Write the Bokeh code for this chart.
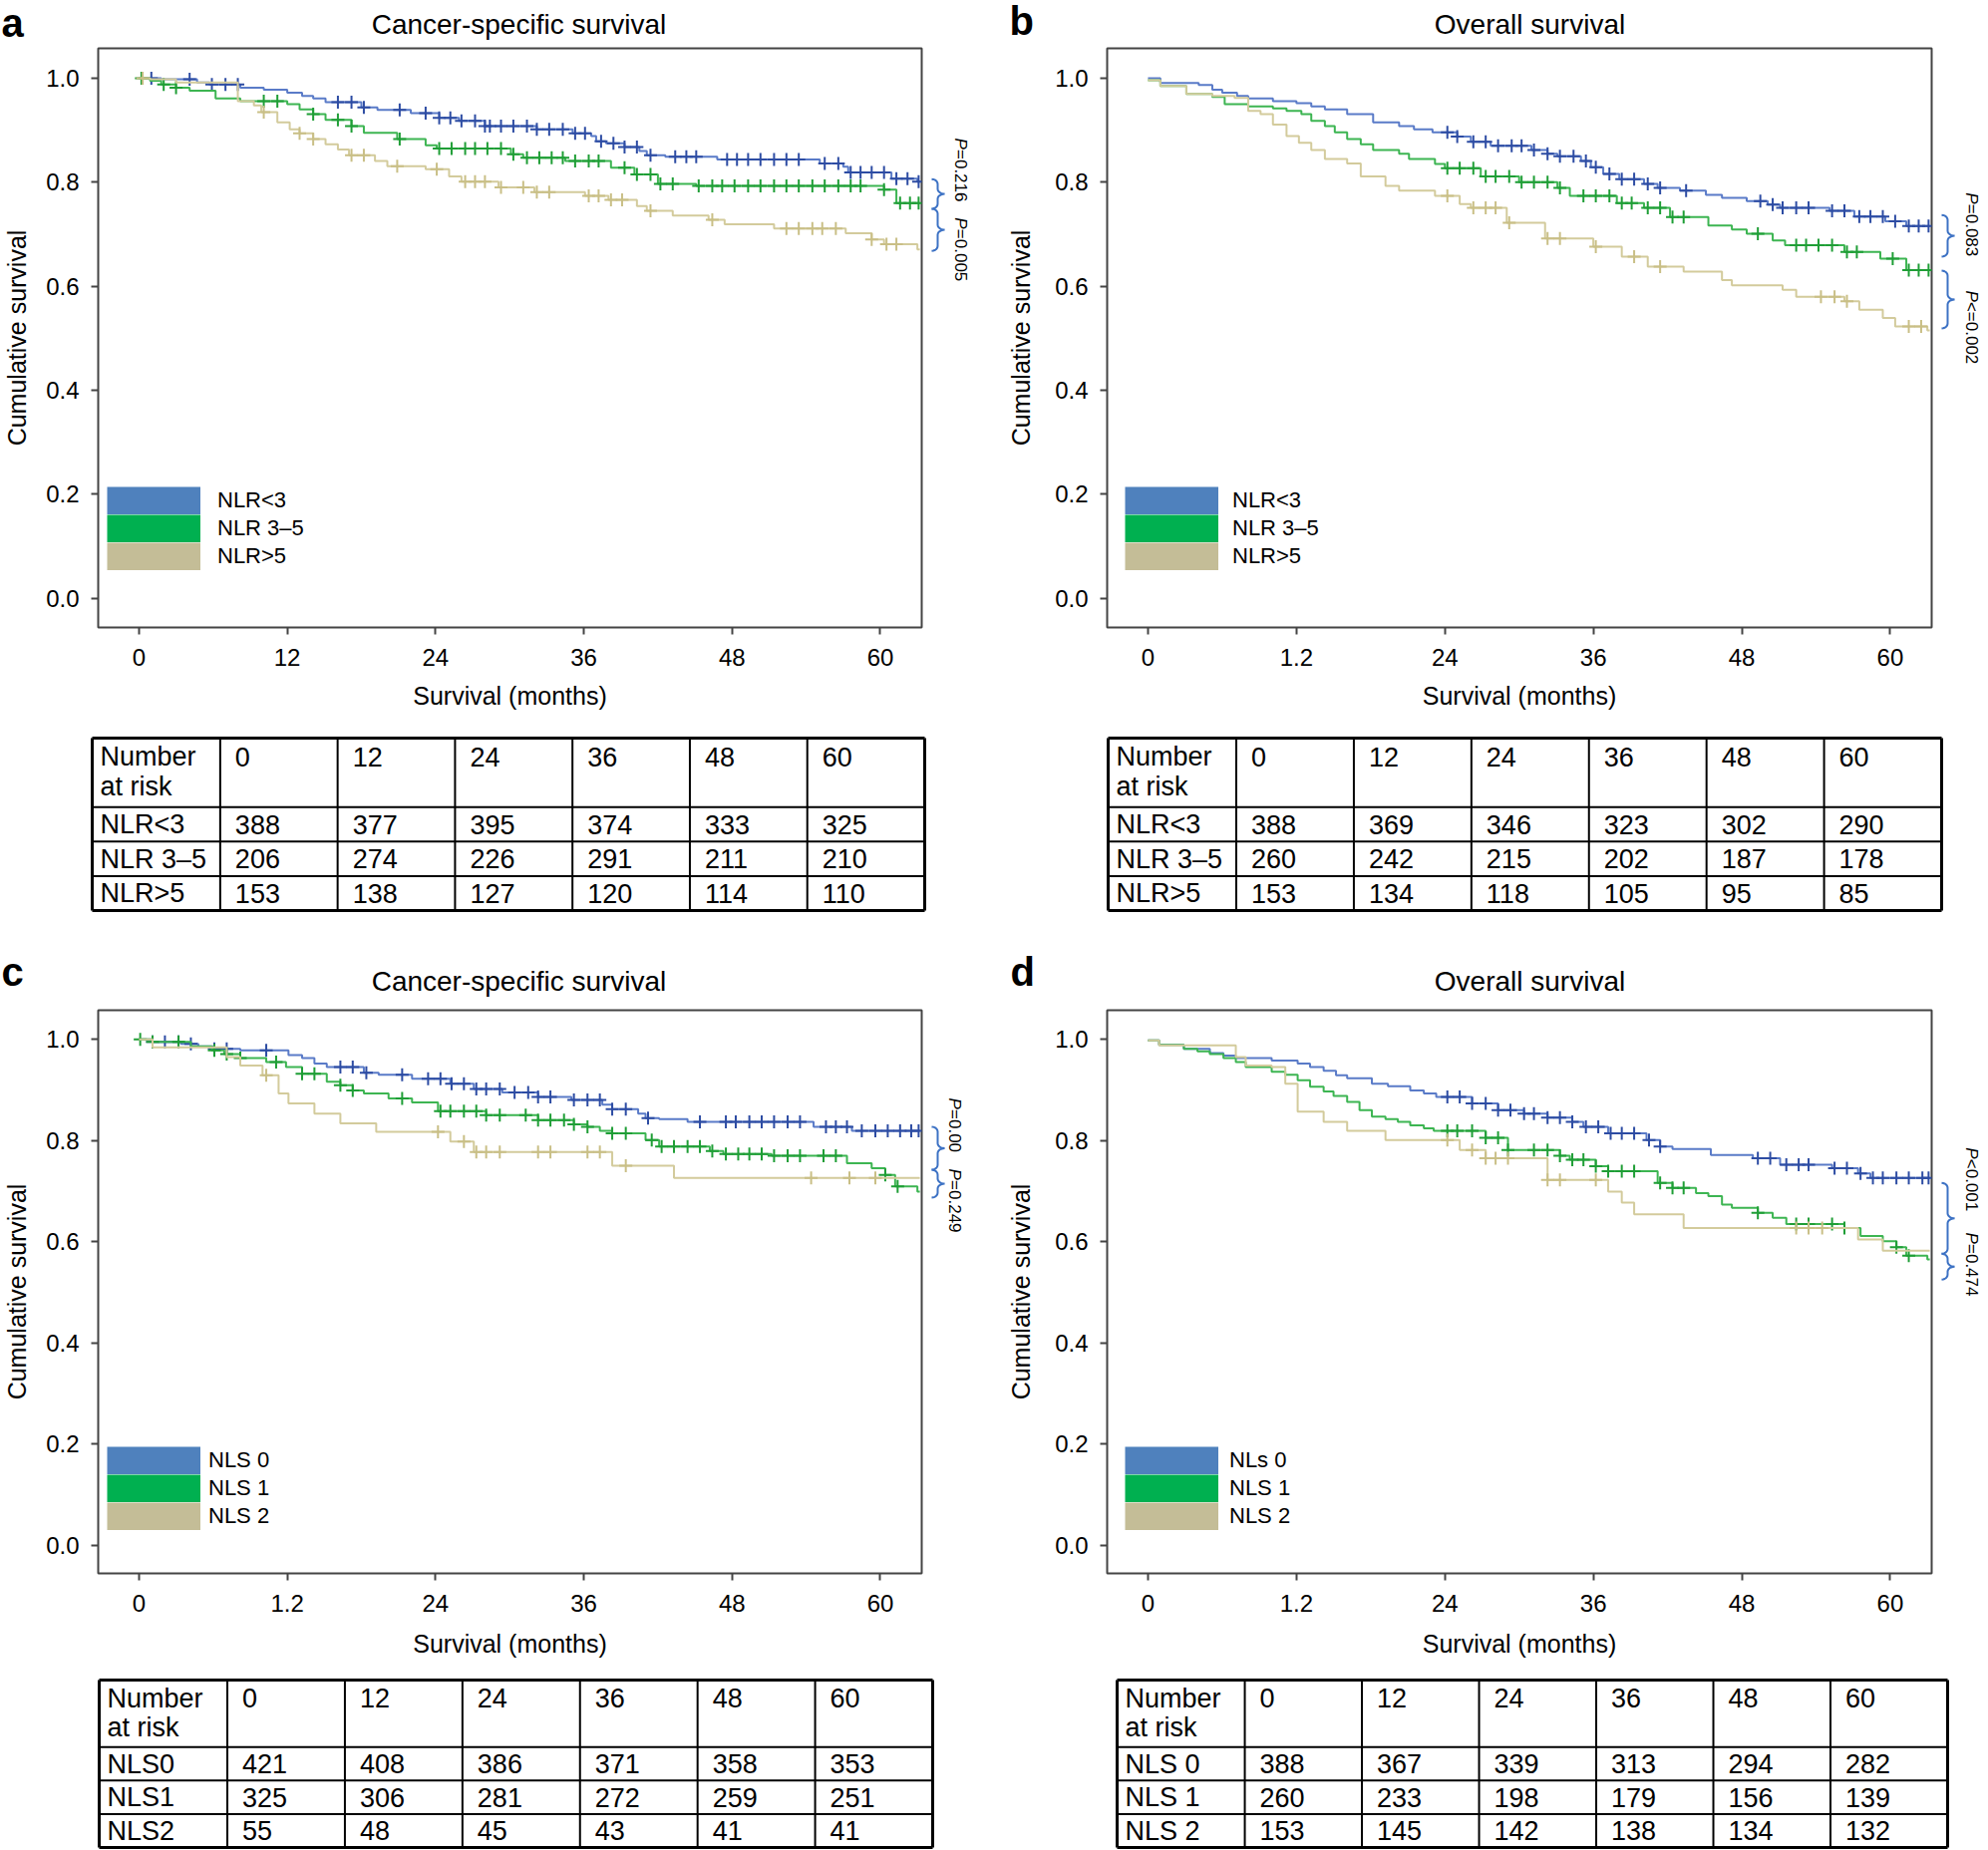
import numpy as np
from bokeh.plotting import figure
from bokeh.models import (Range1d, FixedTicker, PrintfTickFormatter, Legend, LegendItem)
from bokeh.layouts import row, column
from bokeh.embed import file_html
from bokeh.resources import INLINE
from bokeh.core.properties import value

FONT = "Liberation Sans"

# ------------------------------------------------------------------ data
x_ticks = [0, 12, 24, 36, 48, 60]
y_ticks = [0.0, 0.2, 0.4, 0.6, 0.8, 1.0]
followup_end = 63.2

# panel a : cancer-specific survival by NLR
a_t_blue = [0, 1.8, 4.7, 5.7, 8.2, 10.1, 12.0, 13.2, 14.1, 15.1, 18.0, 19.3, 22.0, 24.3, 25.9, 28.0,
            32.2, 35.1, 36.6, 37.0, 37.8, 39.3, 40.5, 41.1, 42.6, 46.8, 55.1, 57.0, 57.4, 60.9, 63.0]
a_s_blue = [1.0, 0.998, 0.992, 0.988, 0.982, 0.978, 0.972, 0.966, 0.961, 0.954, 0.944, 0.939, 0.933,
            0.924, 0.918, 0.908, 0.902, 0.894, 0.889, 0.879, 0.875, 0.868, 0.860, 0.852, 0.849, 0.844,
            0.836, 0.830, 0.819, 0.807, 0.801]
a_c_blue = [1.0, 4.1, 5.9, 7.0, 8.0, 16.1, 17.2, 18.2, 21.1, 23.2, 24.3, 25.2, 26.1, 27.2, 28.0, 28.4,
            29.3, 30.3, 31.4, 32.2, 33.2, 34.3, 35.3, 36.1, 37.4, 38.4, 39.3, 40.3, 41.4, 43.4, 44.3,
            45.1, 47.6, 48.4, 49.3, 50.3, 51.4, 52.4, 53.4, 55.5, 56.6, 57.6, 58.4, 59.3, 60.3, 61.3,
            62.2, 63.1]
a_t_green = [0, 0.9, 1.8, 3.0, 4.1, 6.2, 8.2, 12.0, 13.0, 14.1, 15.1, 17.2, 18.2, 20.9, 23.2, 24.1,
             30.1, 31.1, 34.5, 38.2, 40.1, 42.0, 45.1, 60.3, 61.3]
a_s_green = [1.0, 0.995, 0.988, 0.982, 0.976, 0.961, 0.956, 0.950, 0.940, 0.931, 0.920, 0.908, 0.895,
             0.883, 0.871, 0.865, 0.854, 0.847, 0.841, 0.828, 0.815, 0.797, 0.793, 0.786, 0.760]
a_c_green = [0.2, 2.0, 3.0, 10.1, 11.2, 14.1, 16.1, 17.2, 21.1, 24.3, 25.3, 26.4, 27.2, 28.2, 29.3,
             30.3, 31.4, 32.4, 33.4, 34.3, 35.3, 36.4, 37.2, 39.3, 40.3, 41.4, 42.2, 43.2, 45.3, 46.4,
             47.2, 48.2, 49.3, 50.3, 51.4, 52.4, 53.4, 54.5, 55.5, 56.6, 57.6, 58.4, 60.3, 61.6, 62.4,
             63.1]
a_t_tan = [0, 0.9, 3.0, 8.0, 9.3, 9.9, 11.2, 12.2, 13.0, 14.1, 15.1, 16.1, 17.0, 19.1, 20.1, 23.2,
           25.1, 26.1, 29.1, 32.0, 36.1, 38.0, 40.3, 41.1, 43.2, 46.1, 47.4, 51.4, 57.2, 59.3, 60.3, 63.0]
a_s_tan = [1.0, 0.998, 0.992, 0.956, 0.948, 0.935, 0.915, 0.902, 0.894, 0.883, 0.873, 0.863, 0.852,
           0.841, 0.831, 0.825, 0.811, 0.801, 0.790, 0.781, 0.774, 0.766, 0.754, 0.745, 0.736, 0.728,
           0.719, 0.711, 0.702, 0.690, 0.681, 0.671]
a_c_tan = [0.3, 10.1, 13.0, 14.1, 17.2, 18.2, 20.9, 24.1, 26.4, 27.2, 28.0, 29.3, 31.1, 32.2, 33.2,
           36.4, 37.2, 38.2, 39.1, 41.4, 46.4, 52.4, 53.4, 54.5, 55.3, 56.4, 59.3, 60.5, 61.3]

# panel b : overall survival by NLR
b_t_blue = [0, 1.0, 4.1, 5.2, 6.0, 7.2, 8.1, 10.1, 12.0, 13.2, 14.3, 16.1, 18.2, 20.3, 21.5, 23.0,
            25.0, 26.1, 27.7, 31.0, 32.3, 33.1, 35.0, 35.8, 36.8, 38.1, 40.1, 41.2, 43.0, 45.1, 46.4,
            48.4, 50.1, 51.1, 55.1, 57.1, 59.6, 61.3]
b_s_blue = [1.0, 0.991, 0.987, 0.978, 0.972, 0.966, 0.961, 0.956, 0.952, 0.946, 0.940, 0.931, 0.915,
            0.908, 0.902, 0.896, 0.888, 0.878, 0.870, 0.862, 0.855, 0.850, 0.841, 0.829, 0.816, 0.806,
            0.797, 0.789, 0.784, 0.776, 0.770, 0.764, 0.757, 0.751, 0.745, 0.734, 0.725, 0.716]
b_c_blue = [24.2, 25.0, 26.3, 27.3, 28.3, 29.4, 30.2, 31.2, 32.3, 33.3, 34.4, 35.4, 36.2, 37.3, 38.3,
            39.3, 40.4, 41.4, 43.5, 49.5, 50.5, 51.3, 52.4, 53.4, 55.3, 56.3, 57.5, 58.4, 59.4, 60.4,
            61.5, 62.3, 63.1]
b_t_green = [0, 1.0, 3.1, 5.2, 6.2, 8.1, 10.1, 11.2, 12.4, 13.2, 14.3, 15.1, 16.1, 17.2, 18.2, 20.3,
             21.1, 23.2, 24.0, 26.9, 30.0, 33.1, 34.1, 37.9, 40.1, 42.2, 45.3, 47.2, 48.4, 50.5, 51.5,
             56.3, 59.2, 61.3]
b_s_green = [0.996, 0.985, 0.970, 0.964, 0.950, 0.946, 0.942, 0.937, 0.931, 0.918, 0.908, 0.896,
             0.883, 0.873, 0.862, 0.855, 0.845, 0.835, 0.827, 0.811, 0.800, 0.789, 0.774, 0.760, 0.751,
             0.733, 0.717, 0.709, 0.701, 0.688, 0.679, 0.666, 0.653, 0.631]
b_c_green = [24.2, 25.2, 26.3, 27.3, 28.1, 29.2, 30.2, 31.2, 32.3, 33.3, 35.2, 36.2, 37.3, 38.3, 39.1,
             40.4, 41.4, 42.4, 43.3, 49.3, 52.4, 53.2, 54.2, 55.3, 56.5, 57.3, 60.2, 61.5, 62.3, 63.1]
b_t_tan = [0, 1.0, 3.1, 5.2, 7.0, 8.1, 9.1, 10.1, 11.2, 12.2, 13.2, 14.3, 16.1, 17.2, 19.2, 20.3, 23.2,
           25.2, 26.1, 29.0, 32.1, 36.0, 38.3, 40.4, 43.3, 46.4, 47.2, 51.3, 52.4, 56.3, 57.5, 59.4,
           60.4, 63.0]
b_s_tan = [0.996, 0.985, 0.970, 0.966, 0.962, 0.937, 0.931, 0.911, 0.889, 0.876, 0.862, 0.845, 0.836,
           0.811, 0.793, 0.784, 0.774, 0.758, 0.751, 0.722, 0.692, 0.676, 0.657, 0.638, 0.628, 0.612,
           0.602, 0.593, 0.580, 0.571, 0.555, 0.539, 0.523, 0.515]
b_c_tan = [24.2, 26.3, 27.3, 28.1, 29.2, 32.3, 33.3, 36.2, 39.3, 41.4, 54.4, 55.5, 56.5, 61.5, 62.5]

# panel c : cancer-specific survival by NLS
c_t_blue = [0, 1.1, 3.4, 4.8, 6.1, 8.2, 12.1, 13.2, 14.2, 15.2, 18.2, 19.4, 22.1, 25.2, 27.1, 29.4,
            32.3, 35.0, 37.5, 38.3, 40.4, 41.0, 42.1, 44.4, 54.6, 57.7]
c_s_blue = [1.0, 0.995, 0.991, 0.986, 0.981, 0.978, 0.969, 0.963, 0.952, 0.945, 0.934, 0.930, 0.922,
            0.912, 0.902, 0.895, 0.886, 0.880, 0.871, 0.862, 0.853, 0.844, 0.842, 0.837, 0.827, 0.819]
c_c_blue = [1.1, 2.1, 3.2, 4.2, 6.1, 7.1, 10.3, 16.3, 17.3, 18.4, 21.3, 23.4, 24.4, 25.3, 26.3, 27.3,
            28.1, 29.2, 30.4, 31.5, 32.3, 33.3, 35.2, 36.3, 37.3, 38.3, 39.4, 41.2, 45.4, 47.5, 48.3,
            49.4, 50.4, 51.4, 52.5, 53.5, 55.6, 56.4, 57.3, 58.5, 59.6, 60.6, 61.6, 62.5, 63.1]
c_t_green = [0, 1.1, 4.2, 5.9, 6.9, 8.2, 10.3, 11.9, 13.2, 15.2, 16.3, 17.3, 18.2, 20.2, 22.1, 24.2,
             28.1, 32.3, 35.2, 36.3, 37.3, 38.3, 41.0, 42.1, 46.2, 47.3, 51.2, 57.3, 59.3, 60.4, 61.2,
             63.0]
c_s_green = [1.0, 0.995, 0.986, 0.978, 0.971, 0.963, 0.955, 0.945, 0.932, 0.916, 0.909, 0.899, 0.893,
             0.883, 0.875, 0.858, 0.850, 0.840, 0.832, 0.827, 0.819, 0.814, 0.801, 0.788, 0.779, 0.773,
             0.770, 0.755, 0.745, 0.732, 0.709, 0.699]
c_c_green = [0.1, 1.1, 3.2, 6.1, 7.1, 8.2, 11.1, 13.2, 14.2, 16.3, 17.3, 21.3, 24.4, 25.2, 26.3, 27.3,
             28.1, 29.2, 31.3, 32.3, 33.3, 34.4, 35.2, 36.3, 38.3, 39.4, 41.5, 42.3, 43.3, 44.4, 45.4,
             46.4, 47.5, 48.5, 49.4, 50.4, 51.4, 52.5, 53.5, 55.4, 56.4, 60.4, 61.4]
c_t_tan = [0, 1.1, 7.1, 8.2, 10.0, 11.3, 12.1, 14.2, 16.3, 19.2, 25.2, 27.1, 38.3, 43.3]
c_s_tan = [1.0, 0.984, 0.965, 0.948, 0.929, 0.893, 0.873, 0.853, 0.834, 0.817, 0.798, 0.777, 0.750,
           0.726]
c_c_tan = [10.3, 24.2, 26.3, 27.3, 28.1, 29.2, 32.3, 33.3, 36.3, 37.3, 39.4, 54.4, 57.5, 59.6]

# panel d : overall survival by NLS
d_t_blue = [0, 0.9, 2.9, 5.0, 6.1, 7.1, 10.0, 12.1, 13.1, 14.2, 15.2, 16.1, 18.1, 19.4, 21.2, 22.3,
            23.3, 26.2, 28.3, 30.4, 32.3, 34.3, 35.2, 37.2, 40.3, 41.4, 42.4, 45.5, 48.9, 51.1, 55.3,
            57.4, 58.4]
d_s_blue = [0.998, 0.989, 0.981, 0.973, 0.968, 0.963, 0.958, 0.952, 0.945, 0.938, 0.929, 0.923, 0.912,
            0.907, 0.899, 0.893, 0.886, 0.873, 0.860, 0.853, 0.845, 0.837, 0.827, 0.814, 0.801, 0.788,
            0.783, 0.771, 0.765, 0.752, 0.745, 0.735, 0.726]
d_c_blue = [24.2, 25.2, 26.2, 27.3, 28.3, 29.3, 30.4, 31.2, 32.3, 33.3, 34.3, 35.4, 36.4, 37.4, 38.3,
            39.3, 40.5, 41.4, 49.3, 50.3, 51.6, 52.6, 53.4, 55.5, 56.5, 57.6, 58.6, 59.4, 60.5, 61.5,
            62.6, 63.1]
d_t_green = [0, 0.9, 2.9, 4.0, 5.0, 6.1, 7.1, 7.9, 10.0, 11.1, 12.1, 13.1, 14.2, 15.0, 16.1, 17.1,
             18.1, 19.2, 20.2, 21.2, 22.3, 23.1, 27.3, 29.1, 33.3, 34.1, 36.2, 37.2, 41.2, 42.4, 44.3,
             45.3, 46.4, 47.2, 49.3, 50.5, 51.6, 56.3, 57.6, 59.4, 60.5, 61.3, 63.0]
d_s_green = [0.998, 0.989, 0.981, 0.976, 0.971, 0.963, 0.955, 0.945, 0.936, 0.930, 0.919, 0.906,
             0.897, 0.888, 0.876, 0.860, 0.847, 0.842, 0.837, 0.830, 0.824, 0.819, 0.805, 0.781, 0.770,
             0.762, 0.749, 0.739, 0.716, 0.706, 0.696, 0.690, 0.673, 0.667, 0.657, 0.647, 0.635, 0.627,
             0.611, 0.601, 0.589, 0.572, 0.565]
d_c_green = [24.2, 25.0, 26.2, 27.3, 28.3, 29.1, 31.2, 32.3, 33.3, 34.3, 35.2, 36.2, 37.2, 38.3, 39.3,
             41.4, 42.4, 43.3, 49.3, 52.4, 53.4, 55.3, 56.3, 60.5, 61.5]
d_t_tan = [0, 0.9, 7.1, 7.9, 10.0, 11.1, 12.1, 14.2, 16.1, 19.2, 25.2, 27.3, 32.3, 37.2, 38.3, 39.3,
           43.3, 57.4, 59.4]
d_s_tan = [0.998, 0.988, 0.965, 0.948, 0.945, 0.912, 0.857, 0.837, 0.819, 0.801, 0.781, 0.765, 0.722,
           0.699, 0.677, 0.654, 0.627, 0.604, 0.582]
d_c_tan = [24.2, 26.2, 27.3, 28.1, 29.1, 32.3, 33.3, 36.2, 52.4, 53.4, 54.5]

# number-at-risk tables
risk_cols = ["0", "12", "24", "36", "48", "60"]
a_rows = ["NLR<3", "NLR 3–5", "NLR>5"]
a_risk = [[388, 377, 395, 374, 333, 325], [206, 274, 226, 291, 211, 210], [153, 138, 127, 120, 114, 110]]
b_rows = ["NLR<3", "NLR 3–5", "NLR>5"]
b_risk = [[388, 369, 346, 323, 302, 290], [260, 242, 215, 202, 187, 178], [153, 134, 118, 105, 95, 85]]
c_rows = ["NLS0", "NLS1", "NLS2"]
c_risk = [[421, 408, 386, 371, 358, 353], [325, 306, 281, 272, 259, 251], [55, 48, 45, 43, 41, 41]]
d_rows = ["NLS 0", "NLS 1", "NLS 2"]
d_risk = [[388, 367, 339, 313, 294, 282], [260, 233, 198, 179, 156, 139], [153, 145, 142, 138, 134, 132]]

# titles, legends, p-values (text, top position on the survival scale), brackets
titles = ["Cancer-specific survival", "Overall survival", "Cancer-specific survival", "Overall survival"]
letters = ["a", "b", "c", "d"]
a_legend = ["NLR<3", "NLR 3–5", "NLR>5"]
b_legend = ["NLR<3", "NLR 3–5", "NLR>5"]
c_legend = ["NLS 0", "NLS 1", "NLS 2"]
d_legend = ["NLs 0", "NLS 1", "NLS 2"]
a_pvals = [("=0.216", 0.885), ("=0.005", 0.732)]
b_pvals = [("=0.083", 0.780), ("<=0.002", 0.592)]
c_pvals = [("=0.00", 0.884), ("=0.249", 0.744)]
d_pvals = [("<0.001", 0.786), ("=0.474", 0.618)]
a_brackets = [(0.806, 0.749), (0.749, 0.668)]
b_brackets = [(0.737, 0.657), (0.630, 0.519)]
c_brackets = [(0.827, 0.742), (0.742, 0.687)]
d_brackets = [(0.716, 0.576), (0.576, 0.525)]

# ------------------------------------------------------------------ style
LINE_COLORS = ["#5a7bc8", "#3db552", "#d3cb9c"]
MARK_COLORS = ["#2d4ca3", "#1f9e36", "#c9bf86"]
LEGEND_COLORS = ["#4f81bd", "#00b050", "#c4bd97"]
BRACE_COLOR = "#3d72c4"
X_START, X_END = -3.3, 63.35
Y_START, Y_END = -0.056, 1.0575


def base_fig(W, H, x_range, y_range, bl=0, br=0, bt=0, bb=0, axes=False):
    kw = dict(width=W, height=H, output_backend="svg", toolbar_location=None,
              x_range=x_range, y_range=y_range, min_border=0,
              min_border_left=bl, min_border_right=br, min_border_top=bt, min_border_bottom=bb)
    if not axes:
        kw.update(x_axis_location=None, y_axis_location=None)
    p = figure(**kw)
    p.grid.visible = False
    p.background_fill_color = "white"
    p.border_fill_color = "white"
    if not axes:
        p.outline_line_color = None
    return p


def make_plot(g, curves, legend_labels, tick_override):
    yr = Range1d(Y_START, Y_END)
    p = base_fig(g["W"], g["H"], Range1d(X_START, X_END), yr,
                 g["bl"], g["br"], g["bt"], g["bb"], axes=True)
    p.outline_line_color = "#444444"
    p.outline_line_width = 2

    for ax in (p.xaxis[0], p.yaxis[0]):
        ax.axis_line_color = None
        ax.major_tick_out = 7
        ax.major_tick_in = 0
        ax.major_tick_line_width = 2
        ax.major_tick_line_color = "#444444"
        ax.minor_tick_line_color = None
        ax.major_label_text_font = FONT
        ax.major_label_text_font_size = "24px"
        ax.major_label_text_color = "black"
        ax.axis_label_text_font = FONT
        ax.axis_label_text_font_size = "25px"
        ax.axis_label_text_font_style = "normal"
        ax.axis_label_text_color = "black"
    p.xaxis.ticker = FixedTicker(ticks=x_ticks)
    if tick_override:
        p.xaxis.major_label_overrides = tick_override
    p.yaxis.ticker = FixedTicker(ticks=y_ticks)
    p.yaxis.formatter = PrintfTickFormatter(format="%.1f")
    p.xaxis.axis_label = "Survival (months)"
    p.yaxis.axis_label = "Cumulative survival"
    p.xaxis.major_label_standoff = 14
    p.xaxis.axis_label_standoff = g["xlab_standoff"]
    p.yaxis.major_label_standoff = 12
    p.yaxis.axis_label_standoff = g["ylab_standoff"]

    proxies = []
    for (t, s, c), lc, mc in zip(curves, LINE_COLORS, MARK_COLORS):
        xs = list(t) + [followup_end]
        ys = list(s) + [s[-1]]
        p.step(xs, ys, mode="after", line_color=lc, line_width=2)
        idx = np.searchsorted(np.array(t), np.array(c), side="right") - 1
        cy = [s[i] for i in idx]
        p.scatter(c, cy, marker="cross", size=13, line_color=mc, line_width=2)
        proxies.append((followup_end, s[-1]))

    # legend swatches: zero-length wide-line proxies at the curve ends
    items = []
    for lbl, col, (px, py) in zip(legend_labels, LEGEND_COLORS, proxies):
        r = p.line(x=[px, px], y=[py, py], line_color=col, line_width=28, line_cap="butt")
        items.append(LegendItem(label=lbl, renderers=[r]))
    leg = Legend(items=items, location=g["legend_loc"], orientation="vertical",
                 glyph_width=94, glyph_height=28, spacing=0, padding=0, margin=0,
                 label_standoff=g["legend_standoff"], border_line_color=None,
                 background_fill_alpha=0, label_text_font=FONT, label_text_font_size="22px",
                 label_text_color="black", label_height=22)
    p.add_layout(leg)
    return p


def make_strip(g, yr, x0, x1, pvals, brackets, p_x):
    W = x1 - x0
    s = base_fig(W, g["H"], Range1d(x0, x1), yr, 0, 0, g["bt"], g["bb"])
    frame_h = g["H"] - g["bt"] - g["bb"]
    ppy = frame_h / (Y_END - Y_START)
    xl, xs_, xt = x0 + 4, x0 + 10, x0 + 17
    th = np.linspace(0, np.pi / 2, 7)
    for hi, lo in brackets:
        mid = (hi + lo) / 2
        r = min(5.0 / ppy, (hi - lo) / 4)
        bx, by = [], []
        bx += list(xl + (xs_ - xl) * np.sin(th)); by += list(hi - r + r * np.cos(th))
        bx += list(xt - (xt - xs_) * np.cos(th)); by += list(mid + r - r * np.sin(th))
        bx += list(xt - (xt - xs_) * np.sin(th)); by += list(mid - r + r * np.cos(th))
        bx += list(xl + (xs_ - xl) * np.cos(th)); by += list(lo + r - r * np.sin(th))
        s.line(bx, by, line_color=BRACE_COLOR, line_width=2)
    pw = 11.5 / ppy
    s.text(x=[p_x] * len(pvals), y=[v for _, v in pvals], text=["P"] * len(pvals),
           angle=-np.pi / 2, text_font=value(FONT), text_font_size=value("17px"),
           text_font_style="italic", text_align="left", text_baseline="middle", text_color="black")
    s.text(x=[p_x] * len(pvals), y=[v - pw for _, v in pvals], text=[t for t, _ in pvals],
           angle=-np.pi / 2, text_font=value(FONT), text_font_size=value("17px"),
           text_align="left", text_baseline="middle", text_color="black")
    return s


def make_header(W, y0, y1, title_pos, title_txt, letter_pos, letter_txt):
    h = base_fig(W, y1 - y0, Range1d(0, W), Range1d(y1, y0))
    h.text(x=[q[0] for q in title_pos], y=[q[1] for q in title_pos], text=title_txt,
           text_font=value(FONT), text_font_size=value("28px"), text_align="center",
           text_baseline="middle", text_color="black")
    h.text(x=[q[0] for q in letter_pos], y=[q[1] for q in letter_pos], text=letter_txt,
           text_font=value(FONT), text_font_size=value("40px"), text_font_style="bold",
           text_align="left", text_baseline="middle", text_color="black")
    return h


def make_table(W, H, left, top, tw, th, row_names, counts):
    first = 1.09
    edges = [0, first] + [first + k for k in range(1, len(risk_cols) + 1)]
    total = edges[-1]
    ux = tw / total
    uy = th / 5.0
    p = base_fig(W, H, Range1d(-left / ux, (W - left) / ux),
                 Range1d(-(H - top - th) / uy, 5 + top / uy))
    hy = [1, 2, 3]
    p.segment(x0=[0] * len(hy), x1=[total] * len(hy), y0=hy, y1=hy, line_color="black", line_width=2)
    inner_v = edges[1:-1]
    p.segment(x0=inner_v, x1=inner_v, y0=[0] * len(inner_v), y1=[5] * len(inner_v),
              line_color="black", line_width=2)
    p.segment(x0=[0, 0, 0, total], x1=[total, total, 0, total], y0=[0, 5, 0, 0], y1=[0, 5, 5, 5],
              line_color="black", line_width=3)

    tx, ty, tt = [], [], []
    pad0, pad = 8 / ux, 15 / ux
    tx += [pad0, pad0]; ty += [5 - 2 * 0.27, 5 - 2 * 0.70]; tt += ["Number", "at risk"]
    for j, lab in enumerate(risk_cols):
        tx.append(edges[j + 1] + pad); ty.append(5 - 2 * 0.27); tt.append(lab)
    for r, (name, vals) in enumerate(zip(row_names, counts)):
        yc = 3 - r - 0.5
        tx.append(pad0); ty.append(yc); tt.append(name)
        for j, v in enumerate(vals):
            tx.append(edges[j + 1] + pad); ty.append(yc); tt.append(str(v))
    p.text(x=tx, y=ty, text=tt, text_font=value(FONT), text_font_size=value("27px"),
           text_align="left", text_baseline="middle", text_color="black")
    return p


# layout geometry (page pixels)
geo = {
    "a": dict(W=930, H=689, bl=98, br=6, bt=2, bb=106, ylab_standoff=12, xlab_standoff=13,
              legend_loc=(9, 57), legend_standoff=17),
    "b": dict(W=943, H=689, bl=110, br=6, bt=2, bb=106, ylab_standoff=17, xlab_standoff=13,
              legend_loc=(18, 57), legend_standoff=14),
    "c": dict(W=930, H=675, bl=98, br=6, bt=8, bb=102, ylab_standoff=12, xlab_standoff=15,
              legend_loc=(9, 43), legend_standoff=8),
    "d": dict(W=943, H=675, bl=110, br=6, bt=8, bb=102, ylab_standoff=17, xlab_standoff=15,
              legend_loc=(18, 43), legend_standoff=11),
}

ovr = {12: "1.2"}
pa = make_plot(geo["a"], [(a_t_blue, a_s_blue, a_c_blue), (a_t_green, a_s_green, a_c_green),
                          (a_t_tan, a_s_tan, a_c_tan)], a_legend, None)
pb = make_plot(geo["b"], [(b_t_blue, b_s_blue, b_c_blue), (b_t_green, b_s_green, b_c_green),
                          (b_t_tan, b_s_tan, b_c_tan)], b_legend, ovr)
pc = make_plot(geo["c"], [(c_t_blue, c_s_blue, c_c_blue), (c_t_green, c_s_green, c_c_green),
                          (c_t_tan, c_s_tan, c_c_tan)], c_legend, ovr)
pd_ = make_plot(geo["d"], [(d_t_blue, d_s_blue, d_c_blue), (d_t_green, d_s_green, d_c_green),
                           (d_t_tan, d_s_tan, d_c_tan)], d_legend, ovr)

sa = make_strip(geo["a"], pa.y_range, 930, 1000, a_pvals, a_brackets, 963)
sb = make_strip(geo["b"], pb.y_range, 1943, 1994, b_pvals, b_brackets, 1977)
sc = make_strip(geo["c"], pc.y_range, 930, 1000, c_pvals, c_brackets, 957)
sd = make_strip(geo["d"], pd_.y_range, 1943, 1994, d_pvals, d_brackets, 1977)

h1 = make_header(1994, 0, 46, [(520, 24), (1534, 24)], titles[:2], [(1, 22), (1012, 20)], letters[:2])
h2 = make_header(1994, 925, 1005, [(520, 984), (1534, 984)], titles[2:], [(1, 974), (1013, 974)],
                 letters[2:])

ta = make_table(1000, 190, 92, 5, 835, 173, a_rows, a_risk)
tb = make_table(994, 190, 111, 5, 836, 173, b_rows, b_risk)
tc = make_table(1000, 176, 99, 5, 836, 168, c_rows, c_risk)
td = make_table(994, 176, 120, 5, 833, 168, d_rows, d_risk)

layout = column(h1, row(pa, sa, pb, sb), row(ta, tb), h2, row(pc, sc, pd_, sd), row(tc, td))

open("out.html", "w").write(file_html(layout, INLINE, title="Survival curves"))
